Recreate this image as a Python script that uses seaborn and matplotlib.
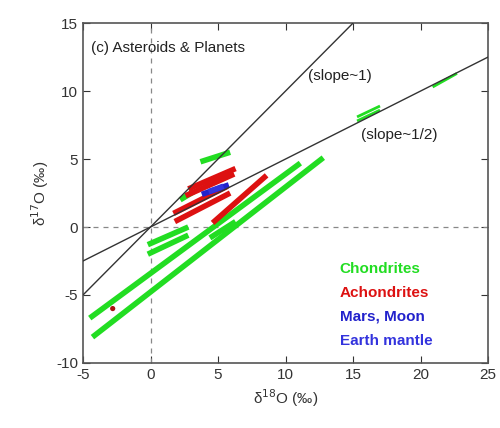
import pandas as pd
import matplotlib.pyplot as plt
import seaborn as sns

# segments as (x0, y0, x1, y1) in permil
chondrites = [
    (-4.3, -8.1, 12.8, 5.1),
    (-4.5, -6.7, 11.1, 4.7),
    (-0.2, -1.3, 2.8, 0.0),
    (-0.2, -2.0, 2.8, -0.6),
    (4.4, -0.8, 6.3, 0.4),
    (3.7, 4.8, 5.9, 5.5),
    (2.2, 2.0, 3.2, 2.6),
]
chondrites_thin = [
    (15.3, 7.8, 17.0, 8.6),
    (15.3, 8.1, 17.0, 8.9),
    (20.9, 10.3, 22.7, 11.3),
]
achondrites = [
    (2.6, 2.3, 6.2, 3.9),
    (2.8, 2.8, 6.3, 4.3),
    (1.8, 0.4, 5.9, 2.5),
    (1.7, 1.0, 5.7, 3.0),
    (4.6, 0.3, 8.6, 3.8),
]
achondrite_pts_x = [-2.8]
achondrite_pts_y = [-6.0]
mars_moon = [
    (3.8, 2.4, 5.8, 3.1),
]
earth_mantle = [
    (4.3, 2.6, 5.4, 3.0),
]

labels = ["Chondrites", "Achondrites", "Mars, Moon", "Earth mantle"]
colors = {"Chondrites": "#22dd22", "Achondrites": "#dd1111",
          "Mars, Moon": "#2222cc", "Earth mantle": "#3333dd"}


def to_long(segs_by_group):
    rows = []
    for name, segs in segs_by_group.items():
        for i, (x0, y0, x1, y1) in enumerate(segs):
            rows.append({"group": name, "seg": f"{name}{i}", "x": x0, "y": y0})
            rows.append({"group": name, "seg": f"{name}{i}", "x": x1, "y": y1})
    return pd.DataFrame(rows)


df = to_long({"Chondrites": chondrites, "Achondrites": achondrites,
              "Mars, Moon": mars_moon, "Earth mantle": earth_mantle})
df_thin = to_long({"Chondrites": chondrites_thin})

sns.set_style("ticks")
plt.rcParams["font.family"] = ["Liberation Sans", "DejaVu Sans"]
plt.rcParams["axes.unicode_minus"] = False

fig = plt.figure(figsize=(5, 4.28), dpi=100)
ax = fig.add_axes([0.166, 0.152, 0.81, 0.794])

ax.axvline(0, color="#888888", lw=0.9, ls=(0, (4, 4)), zorder=1)
ax.axhline(0, color="#888888", lw=0.9, ls=(0, (4, 4)), zorder=1)

sns.lineplot(data=df, x="x", y="y", hue="group", units="seg", estimator=None,
             palette=colors, lw=4, legend=False, ax=ax, zorder=3,
             solid_capstyle="butt", sort=False)
sns.lineplot(data=df_thin, x="x", y="y", hue="group", units="seg", estimator=None,
             palette=colors, lw=2, legend=False, ax=ax, zorder=3,
             solid_capstyle="butt", sort=False)
sns.scatterplot(x=achondrite_pts_x, y=achondrite_pts_y, color="#aa1111",
                s=14, edgecolor="none", ax=ax, zorder=5)

# mass fractionation reference lines
ax.plot([-5, 15], [-5, 15], color="#333333", lw=1, zorder=4)
ax.plot([-5, 25], [-2.5, 12.5], color="#333333", lw=1, zorder=4)

ax.set_xlim(-5, 25)
ax.set_ylim(-10, 15)
ax.set_xticks(range(-5, 30, 5))
ax.set_yticks(range(-10, 20, 5))
ax.tick_params(direction="in", top=True, right=True, length=5, labelsize=11,
               colors="#333333")
for s in ax.spines.values():
    s.set_color("#555555")
    s.set_linewidth(1.2)

ax.set_xlabel("δ$^{18}$O (‰)", fontsize=11, color="#333333")
ax.set_ylabel("δ$^{17}$O (‰)", fontsize=11, color="#333333")

ax.text(-4.4, 13.2, "(c) Asteroids & Planets", fontsize=11, color="#222222", va="center")
ax.text(11.7, 11.1, "(slope~1)", fontsize=11, color="#222222", va="center")
ax.text(15.6, 6.8, "(slope~1/2)", fontsize=11, color="#222222", va="center")

for i, name in enumerate(labels):
    ax.text(14.0, -3.1 - 1.75 * i, name, fontsize=11, fontweight="bold",
            color=colors[name], va="center")

fig.savefig("out.png", dpi=100)
